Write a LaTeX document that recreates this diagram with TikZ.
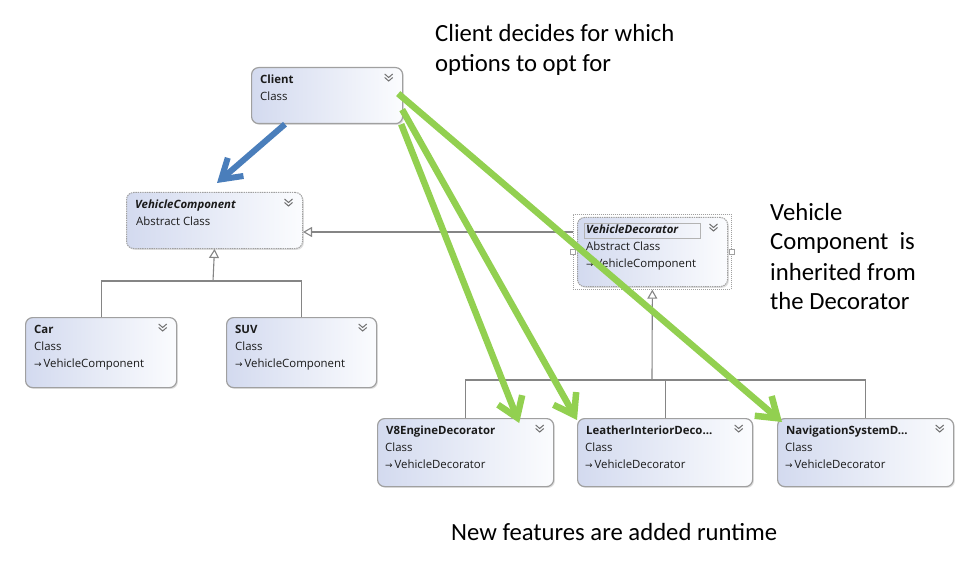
\documentclass[tikz,border=0pt]{standalone}
\usepackage{fontspec}
\setmainfont{Carlito}
\newfontfamily\boxfont{Open Sans}
\newfontfamily\symfont{DejaVu Sans}
\usetikzlibrary{arrows.meta,calc,shadows}
\definecolor{grn}{HTML}{92D050}
\definecolor{blu}{HTML}{4A7EBB}
\definecolor{boxl}{HTML}{D3DAEF}
\definecolor{boxr}{HTML}{FBFCFE}
\definecolor{edge}{HTML}{A0A0A0}
\definecolor{conn}{HTML}{858585}
\definecolor{txt}{HTML}{1A1A1A}
\definecolor{chevc}{HTML}{707070}
\tikzset{
  umlbox/.style={draw=edge, line width=1.2pt, rounded corners=7pt, left color=boxl, right color=boxr,
    drop shadow={opacity=0.25, shadow xshift=1.3pt, shadow yshift=-1.3pt}, anchor=north west, inner sep=0pt},
  abstractbox/.style={umlbox, dash pattern=on 1.4pt off 0.9pt, line width=1pt},
  selbox/.style={draw=edge, line width=0.7pt, dash pattern=on 1pt off 1pt, anchor=north west, inner sep=0pt},
  handle/.style={draw=edge, fill=white, line width=0.6pt, minimum size=5pt, inner sep=0pt},
  boxtitle/.style={anchor=west, inner sep=0pt, text height=8pt, text depth=2.5pt, text=txt, font=\boxfont\fontsize{11.4}{13}\selectfont},
  boxsub/.style={boxtitle},
  chev/.style={draw=chevc, line width=1pt},
  conn/.style={draw=conn, line width=1.1pt},
  inh/.style={conn, -{Triangle[open, length=9pt, width=10pt, fill=white]}},
  garrow/.style={draw=grn, line width=6.5pt, -{Straight Barb[length=19pt, width=26pt]}},
  barrow/.style={draw=blu, line width=6pt, -{Straight Barb[length=19pt, width=24pt]}},
  note/.style={anchor=base west, inner sep=0pt, text=black, font=\fontsize{24.7}{30}\selectfont},
}
\newcommand\mkbox[7]{%
  \node[#6, minimum width=#4, minimum height=#5] (#1) at (#2,#3) {};
  \draw[chev] ($(#1.north east)+(-18.5,7)$) -- ++(4,3.5) -- ++(4,-3.5)
              ($(#1.north east)+(-18.5,10.5)$) -- ++(4,3.5) -- ++(4,-3.5);
  \node[boxtitle] (#1-t) at ($(#1.north west)+(9,13.5)$) {#7};
}
\newcommand\inharrow{{\symfont\fontsize{9}{10}\selectfont →}\,}
\begin{document}
\begin{tikzpicture}[x=1pt,y=-1pt]
\fill[white] (0,0) rectangle (970,583);
\useasboundingbox (0,0) rectangle (970,583);

% ---------- classes ----------
\mkbox{client}{251}{67}{151}{56}{umlbox}{\bfseries Client}
\node[boxsub] (client-a) at ($(client.north west)+(9,30.5)$) {Class};

\mkbox{vc}{126}{192}{176}{56}{abstractbox}{\bfseries\itshape VehicleComponent}
\node[boxsub] (vc-a) at ($(vc.north west)+(10,30.5)$) {Abstract Class};

\node[selbox, minimum width=158, minimum height=75] (decsel) at (573,214) {};
\mkbox{dec}{577}{217}{150}{69}{abstractbox}{\bfseries\itshape VehicleDecorator}
\node[draw=edge!80, line width=0.6pt, inner sep=0pt, minimum width=116, minimum height=15, anchor=north west] (dec-tbox) at (584,223) {};
\node[boxsub] (dec-a) at ($(dec.north west)+(9,31)$) {Abstract Class};
\node[boxsub] (dec-b) at ($(dec.north west)+(9,48)$) {\inharrow VehicleComponent};
\node[handle] (dec-hl) at (decsel.west) {};
\node[handle] (dec-hr) at (decsel.east) {};

\mkbox{car}{25}{317}{151}{70}{umlbox}{\bfseries Car}
\node[boxsub] (car-a) at ($(car.north west)+(9,30.5)$) {Class};
\node[boxsub] (car-b) at ($(car.north west)+(9,47.5)$) {\inharrow VehicleComponent};

\mkbox{suv}{226}{317}{150}{70}{umlbox}{\bfseries SUV}
\node[boxsub] (suv-a) at ($(suv.north west)+(9,30.5)$) {Class};
\node[boxsub] (suv-b) at ($(suv.north west)+(9,47.5)$) {\inharrow VehicleComponent};

\mkbox{v8}{377}{418}{176}{68}{umlbox}{\bfseries V8EngineDecorator}
\node[boxsub] (v8-a) at ($(v8.north west)+(8,31)$) {Class};
\node[boxsub] (v8-b) at ($(v8.north west)+(8,48)$) {\inharrow VehicleDecorator};

\mkbox{leather}{577}{418}{175}{68}{umlbox}{\bfseries LeatherInteriorDeco...}
\node[boxsub] (leather-a) at ($(leather.north west)+(8,31)$) {Class};
\node[boxsub] (leather-b) at ($(leather.north west)+(8,48)$) {\inharrow VehicleDecorator};

\mkbox{nav}{777}{418}{176}{68}{umlbox}{\bfseries NavigationSystemD...}
\node[boxsub] (nav-a) at ($(nav.north west)+(8,31)$) {Class};
\node[boxsub] (nav-b) at ($(nav.north west)+(8,48)$) {\inharrow VehicleDecorator};

% ---------- inheritance ----------
\coordinate (vcbus) at (213,281);
\draw[conn] (car.north) |- (vcbus);
\draw[conn] (suv.north) |- (vcbus);
\draw[inh] (vcbus) -- (vc.south);
\draw[inh] (decsel.west |- 0,232) -- (vc.east |- 0,232);

\coordinate (decbus) at (652,380);
\draw[conn] (v8.north) |- (decbus);
\draw[conn] (leather.north) |- (decbus);
\draw[conn] (nav.north) |- (decbus);
\draw[inh] (decbus) -- (decsel.south);

% ---------- annotation arrows ----------
\coordinate (bs) at ($(client.south west)+(34,0)$);
\coordinate (bt) at ($(vc.north west)+(91,-9)$);
\draw[barrow] (bs) -- (bt);

\coordinate (gs1) at ($(client.east)+(-5,-2)$);
\coordinate (gt1) at ($(nav.north west)+(5,4)$);
\coordinate (gs2) at ($(client.east)+(-1,14)$);
\coordinate (gt2) at ($(leather.north west)+(0,2)$);
\coordinate (gs3) at ($(client.south east)+(-2,0)$);
\coordinate (gt3) at ($(v8.north east)+(-35,5)$);
\draw[garrow] (gs1) -- (gt1);
\draw[garrow] (gs2) -- (gt2);
\draw[garrow] (gs3) -- (gt3);

% ---------- notes ----------
\node[note] (n1a) at (435,42) {Client decides for which};
\node[note] (n1b) at (435,72) {options to opt for};
\node[note] (n2a) at (770,220) {Vehicle};
\node[note] (n2b) at (770,250) {Component\ \ is};
\node[note] (n2c) at (770,280) {inherited from};
\node[note] (n2d) at (770,309) {the Decorator};
\node[note] (n3) at (451,540) {New features are added runtime};
\end{tikzpicture}
\end{document}
